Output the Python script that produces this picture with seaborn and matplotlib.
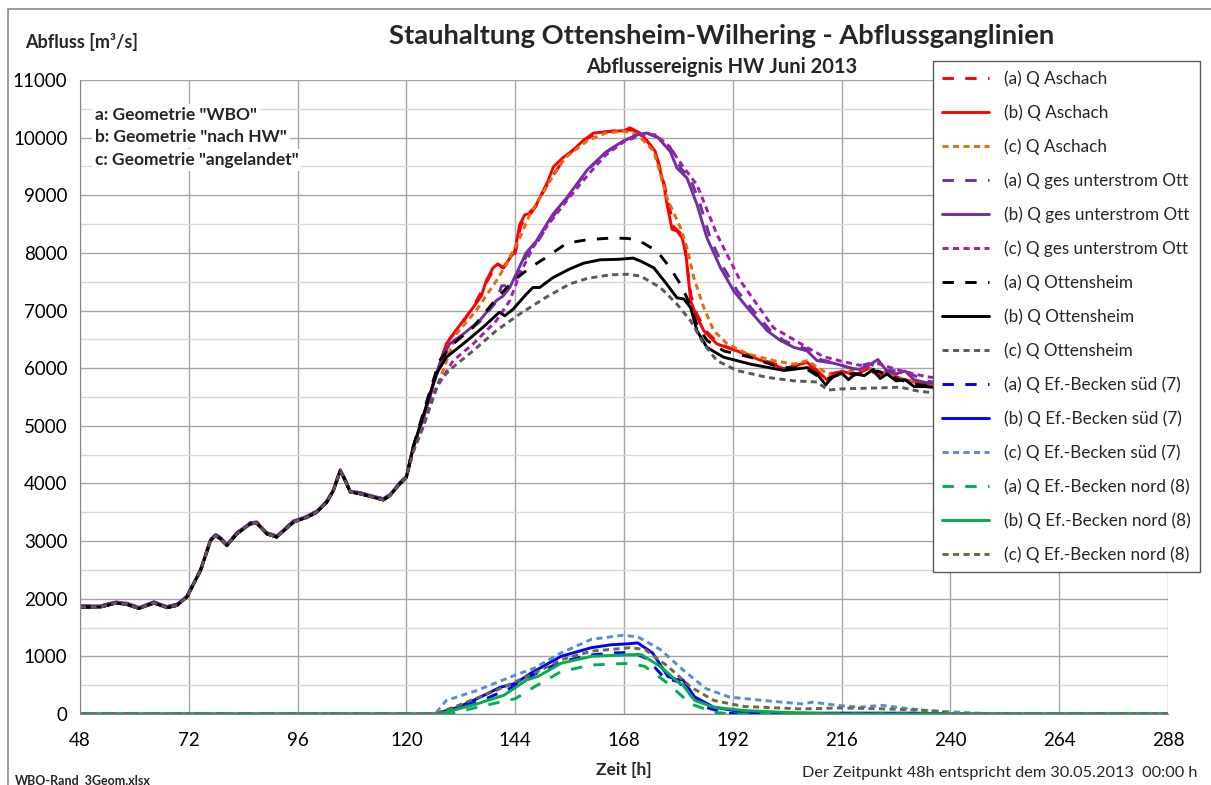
import matplotlib
matplotlib.use("Agg")
import matplotlib.pyplot as plt
from matplotlib.patches import Rectangle
from matplotlib.ticker import MultipleLocator
import numpy as np
import pandas as pd
import seaborn as sns

# ---------------- data ----------------
BASE_T = [48, 52.5, 55.9, 58.4, 61, 64.3, 67.2, 69.4, 71.6, 74.6, 76.8, 77.9, 79, 80.4, 82.6, 85.6, 87,
          89.2, 91.4, 95.1, 98, 100.2, 102.4, 103.9, 105.4, 106.5, 107.6, 109.8, 112.7, 114.9, 116.4, 118.5, 120]
BASE_Q = [1856, 1856, 1925, 1900, 1830, 1925, 1845, 1885, 2030, 2490, 3010, 3095, 3040, 2920, 3125, 3300, 3310,
          3125, 3070, 3330, 3410, 3500, 3670, 3875, 4220, 4050, 3850, 3820, 3760, 3715, 3790, 3990, 4105]

aschach_a_t = [121.5, 124, 126.5, 129, 132.5, 135, 137.6, 139.3, 140.3, 141.4, 142.5, 144, 145.2, 146.5, 148.5, 151.5,
               155, 159, 162, 165, 168, 170, 172, 175, 177, 179, 181, 182.8, 184, 186, 189, 193, 198, 204, 208,
               212, 216, 220, 224, 228, 232, 235, 240, 264, 288]
aschach_a_q = [4620, 5250, 5900, 6450, 6800, 7100, 7480, 7720, 7800, 7740, 7850, 8000, 8460, 8660, 8800, 9250,
               9650, 9950, 10070, 10110, 10130, 10130, 10050, 9750, 9150, 8450, 8300, 7250, 6950, 6650, 6420, 6300,
               6160, 6000, 6090, 5880, 5940, 5890, 5940, 5830, 5750, 5720, 5650, 5450, 5300]

aschach_b_t = [121.5, 123.7, 125.1, 126.9, 128.8, 130.3, 132.5, 134.7, 136.5, 137.6, 139.1, 140.2, 141.3, 142.4,
               143.9, 145, 146.1, 147.5, 148.3, 151.2, 152.4, 154.5, 156.8, 159, 161.3, 165, 168, 169.3, 170.3,
               171.5, 173, 174.9, 176.8, 177.5, 178.6, 179.7, 180.8, 181.6, 182.7, 183.8, 185.6, 188.5, 192.9,
               197.4, 203.3, 207, 208.4, 210.6, 213, 216, 219, 222, 224, 226, 229, 232, 234.5, 240, 252, 264, 276, 288]
aschach_b_q = [4625, 5145, 5500, 5960, 6420, 6590, 6820, 7050, 7250, 7510, 7740, 7810, 7740, 7860,
               8030, 8490, 8660, 8690, 8780, 9240, 9490, 9650, 9785, 9950, 10080, 10110, 10120, 10170, 10130,
               10080, 9950, 9760, 9180, 8840, 8410, 8380, 8260, 8030, 7170, 6940, 6650, 6420, 6300,
               6160, 5990, 6070, 6100, 5960, 5780, 5950, 5880, 6000, 5870, 5930, 5820, 5760, 5720, 5650, 5550,
               5450, 5380, 5300]

aschach_c_t = [121.5, 124, 127.3, 131, 135.4, 139.8, 142, 145, 147.2, 151.6, 155, 160, 164, 168, 171, 174.6,
               177.5, 180.5, 181.9, 183.4, 185.6, 187.8, 190.8, 195.2, 201.1, 205.5, 208.4, 211, 214, 218, 222,
               226, 230, 234.5, 240, 264, 288]
aschach_c_q = [4600, 5150, 5790, 6590, 7000, 7510, 7800, 8260, 8660, 9240, 9650, 9950, 10080, 10110, 10050, 9760,
               8950, 8430, 8090, 7570, 7050, 6650, 6420, 6250, 6130, 6070, 6130, 6000, 5850, 5950, 6000,
               5900, 5800, 5740, 5670, 5480, 5330]

ges_a_t = [121.5, 124, 126, 127.4, 129.5, 132.5, 136.1, 139.8, 141, 143, 144.5, 146.6, 149, 152.5, 155.5, 160,
           164, 168, 171, 173.5, 176, 178.8, 180.5, 182.6, 184.8, 187, 190, 193, 196, 200.3, 203.2, 206.2, 209,
           211.3, 214, 218, 222, 226, 230, 234.5, 240, 264, 288]
ges_a_q = [4620, 5180, 5720, 6060, 6400, 6570, 6800, 7150, 7430, 7430, 7600, 7980, 8200, 8650, 8950, 9440,
           9740, 9950, 10040, 10070, 9990, 9760, 9470, 9300, 8840, 8260, 7740, 7340, 7050, 6650, 6480, 6380, 6320,
           6150, 6100, 6000, 6080, 5960, 5950, 5780, 5720, 5550, 5400]

ges_b_t = [121.5, 124, 126, 127.4, 129.5, 132.5, 136.1, 139.8, 141.3, 142.8, 144.2, 146.4, 148.6, 152.3, 155.3,
           160, 164, 168, 171, 173, 175.5, 178.2, 179.7, 181.9, 184.1, 186.3, 189.3, 192.2, 195.2, 199.6, 202.5,
           205.5, 208.4, 210.6, 214, 216, 218, 220, 222, 224, 226, 228, 230, 232, 234.5, 240, 264, 288]
ges_b_q = [4640, 5200, 5750, 6090, 6420, 6590, 6820, 7170, 7250, 7400, 7630, 8000, 8200, 8670, 8950,
           9450, 9750, 9950, 10050, 10080, 10000, 9760, 9470, 9300, 8840, 8260, 7740, 7340, 7050, 6650, 6480,
           6360, 6300, 6130, 6090, 6050, 6000, 5980, 6050, 6150, 5950, 5900, 5950, 5800, 5750, 5720, 5550, 5400]

ges_c_t = [121.5, 123.8, 125.8, 130.3, 134.7, 139.8, 142.8, 145, 147.9, 150.8, 155.3, 160, 164, 168, 172, 175,
           178, 181, 184.1, 188.5, 193.7, 201, 208.4, 212, 216, 220, 224, 228, 232, 235, 240, 264, 288]
ges_c_q = [4550, 5000, 5550, 6130, 6420, 6820, 7170, 7630, 8090, 8440, 8900, 9350, 9700, 9930, 10050, 10050,
           9850, 9500, 9180, 8320, 7510, 6700, 6360, 6200, 6120, 6050, 6080, 5980, 5900, 5850, 5800, 5600, 5450]

ott_a_t = [121.5, 124, 127.3, 130.3, 134.7, 139.8, 143.5, 147.2, 150.8, 155.4, 160, 165.6, 169, 171.6, 175.3,
           178.2, 180.5, 181.9, 184.1, 186.3, 190, 195.9, 202.5, 208, 212, 216, 220, 224, 228, 232, 235, 240, 264, 288]
ott_a_q = [4640, 5300, 6130, 6420, 6710, 7200, 7510, 7740, 7920, 8170, 8230, 8260, 8250, 8200, 8030,
           7740, 7450, 7220, 6760, 6480, 6300, 6190, 6010, 6000, 5800, 5900, 5900, 5950, 5820, 5720, 5700, 5650,
           5450, 5300]

ott_b_t = [121.5, 124, 126.6, 128.8, 132.5, 136.9, 140.5, 141.7, 143.5, 146.4, 147.9, 149.4, 152.3, 156, 159,
           162.7, 167, 170, 171.6, 174.6, 177.5, 179.7, 181.2, 182.7, 184.1, 186.3, 190, 195.9, 203.3, 208.4,
           210.6, 212.5, 214, 216, 217.5, 219, 221, 223, 224.5, 226, 228, 230, 232, 234.5, 240, 264, 288]
ott_b_q = [4620, 5250, 5900, 6190, 6420, 6710, 6970, 6910, 7020, 7280, 7400, 7400, 7570, 7720, 7820,
           7880, 7890, 7910, 7860, 7740, 7450, 7220, 7200, 7050, 6650, 6360, 6190, 6070, 5960, 6010,
           5900, 5710, 5850, 5920, 5800, 5900, 5870, 5980, 5820, 5900, 5780, 5800, 5680, 5680, 5640, 5450, 5300]

ott_c_t = [121.5, 124, 127.3, 130.3, 134.7, 139.8, 145, 150.8, 156, 160, 165, 168.7, 171.6, 176, 179.7, 182.7,
           185.6, 188.5, 192.9, 199.6, 205.5, 210.6, 213, 216, 220, 225, 229, 233, 235.5, 240, 264, 288]
ott_c_q = [4550, 5050, 5790, 6020, 6300, 6650, 6940, 7230, 7460, 7560, 7620, 7630, 7600, 7400, 7110, 6820,
           6420, 6130, 5960, 5840, 5780, 5760, 5620, 5640, 5650, 5660, 5670, 5600, 5580, 5560, 5400, 5250]

sued_a_t = [48, 127, 132, 138, 143, 148, 154, 160, 166, 170, 173, 177, 180, 183, 186, 190, 193, 288]
sued_a_q = [0, 0, 100, 280, 450, 680, 900, 1020, 1060, 1070, 960, 620, 560, 300, 120, 20, 0, 0]

sued_b_t = [48, 126.3, 131.4, 135.6, 140.6, 144, 147.4, 154.1, 160.8, 165, 169.3, 171, 174.3, 177.7, 179.5,
            181, 183.6, 187.8, 194.5, 202, 232, 240, 288]
sued_b_q = [0, 0, 118, 265, 460, 530, 705, 1000, 1150, 1200, 1220, 1235, 1060, 650, 600,
            590, 295, 118, 30, 15, 15, 0, 0]

sued_c_t = [48, 126.3, 128.8, 135.6, 144, 148.2, 154.1, 160.8, 167.6, 171, 176, 181, 186.1, 191.2, 198.7,
            207.2, 209.7, 215, 219.8, 225, 230, 235, 242, 250, 288]
sued_c_q = [0, 0, 235, 410, 675, 795, 1060, 1295, 1365, 1340, 1120, 765, 440, 295, 235,
            175, 205, 150, 118, 150, 100, 60, 30, 0, 0]

nord_a_t = [48, 129.7, 135.6, 144, 148.2, 154.1, 160.8, 169.3, 172.6, 177.7, 182.7, 187.8, 192, 288]
nord_a_q = [0, 0, 118, 265, 470, 735, 850, 880, 825, 530, 176, 30, 0, 0]

nord_b_t = [48, 127.2, 135.6, 141.5, 146.5, 149, 154.1, 160.8, 169.3, 171.8, 176, 179.4, 181, 183.6, 187.8,
            194.5, 202.9, 210, 215, 288]
nord_b_q = [0, 0, 176, 325, 590, 650, 880, 1000, 1030, 1030, 825, 590, 500, 235, 118,
            60, 30, 10, 0, 0]

nord_c_t = [48, 126.3, 131.4, 139.8, 148.2, 154.1, 160.8, 169.3, 172.6, 177.7, 182.7, 187.8, 194.5, 207.2,
            215.6, 225, 235, 238, 241, 288]
nord_c_q = [0, 0, 147, 410, 705, 940, 1090, 1150, 1120, 825, 470, 235, 130, 88,
            105, 90, 60, 40, 0, 0]

LABELS = ["(a) Q Aschach", "(b) Q Aschach", "(c) Q Aschach",
          "(a) Q ges unterstrom Ott", "(b) Q ges unterstrom Ott", "(c) Q ges unterstrom Ott",
          "(a) Q Ottensheim", "(b) Q Ottensheim", "(c) Q Ottensheim",
          "(a) Q Ef.-Becken süd (7)", "(b) Q Ef.-Becken süd (7)", "(c) Q Ef.-Becken süd (7)",
          "(a) Q Ef.-Becken nord (8)", "(b) Q Ef.-Becken nord (8)", "(c) Q Ef.-Becken nord (8)"]

X_TICKS = list(range(48, 289, 24))
Y_TICKS = list(range(0, 11001, 1000))

# ---------------- style ----------------
sns.set_style("white")
FONT = ["Lato", "DejaVu Sans"]
plt.rcParams["font.family"] = FONT

COLORS = ["#FF0000", "#FF0000", "#E46C0A",
          "#7030A0", "#7030A0", "#A41CB4",
          "#000000", "#000000", "#595959",
          "#0000FF", "#0000FF", "#558ED5",
          "#00B050", "#00B050", "#6E6A3A"]
LONG = (0, (3.9, 3.9))
SHORT = (0, (2.1, 1.5))
STYLES = [LONG, "-", SHORT] * 5

upper = [(aschach_a_t, aschach_a_q, 0), (aschach_b_t, aschach_b_q, 0), (aschach_c_t, aschach_c_q, 0),
         (ges_a_t, ges_a_q, 20), (ges_b_t, ges_b_q, 20), (ges_c_t, ges_c_q, 10),
         (ott_a_t, ott_a_q, 0), (ott_b_t, ott_b_q, 0), (ott_c_t, ott_c_q, 0)]
series = []
for t, q, off in upper:
    series.append((BASE_T + t, [v + off for v in BASE_Q] + q))
series += [(sued_a_t, sued_a_q), (sued_b_t, sued_b_q), (sued_c_t, sued_c_q),
           (nord_a_t, nord_a_q), (nord_b_t, nord_b_q), (nord_c_t, nord_c_q)]

fig = plt.figure(figsize=(12.11, 7.85), dpi=100)
ax = fig.add_axes([80 / 1211, 1 - 714 / 785, (1168 - 80) / 1211, (714 - 80) / 785])

handles = []
for (t, q), lab, col, ls in zip(series, LABELS, COLORS, STYLES):
    df = pd.DataFrame({"t": t, "q": q})
    sns.lineplot(data=df, x="t", y="q", ax=ax, color=col, linewidth=2.1, linestyle=ls,
                 estimator=None, sort=False, legend=False)
    handles.append(ax.lines[-1])

ax.set_xlim(48, 288)
ax.set_ylim(0, 11000)
ax.set_xticks(X_TICKS)
ax.set_yticks(Y_TICKS)
ax.yaxis.set_minor_locator(MultipleLocator(500))
ax.grid(True, which="major", color="#A6A6A6", lw=1.0)
ax.grid(True, which="minor", axis="y", color="#D9D9D9", lw=1.0)
ax.set_axisbelow(True)
ax.tick_params(axis="both", which="both", direction="out", length=5, color="#868686",
               labelsize=13.5, pad=4, labelcolor="#000000")
ax.tick_params(axis="x", pad=8)
for s in ["top", "right"]:
    ax.spines[s].set_visible(False)
for s in ["left", "bottom"]:
    ax.spines[s].set_color("#868686")
ax.set_xlabel("")
ax.set_ylabel("")

leg = ax.legend(handles, LABELS, loc="upper left", bbox_to_anchor=(933 / 1211, 1 - 61 / 785),
                bbox_transform=fig.transFigure, borderaxespad=0, fontsize=12.3, frameon=True,
                fancybox=False, edgecolor="#5a5a5a", framealpha=1, handlelength=2.7,
                handletextpad=0.9, labelspacing=1.02, borderpad=0.55)
leg.get_frame().set_linewidth(1.0)
leg.set_zorder(10)

# texts
fig.text(722 / 1211, 1 - 36 / 785, "Stauhaltung Ottensheim-Wilhering - Abflussganglinien",
         ha="center", va="center", fontsize=19.7, fontweight="bold")
fig.text(722 / 1211, 1 - 67 / 785, "Abflussereignis HW Juni 2013",
         ha="center", va="center", fontsize=14.5, fontweight="bold")
fig.text(25 / 1211, 1 - 42 / 785, "Abfluss [m³/s]", ha="left", va="center", fontsize=13,
         fontweight="bold")
for yy, txt in [(115, 'a: Geometrie "WBO"'), (137, 'b: Geometrie "nach HW"'), (160, 'c: Geometrie "angelandet"')]:
    fig.text(95 / 1211, 1 - yy / 785, txt, ha="left", va="center", fontsize=12.5, fontweight="bold",
             bbox=dict(facecolor="white", edgecolor="none", pad=2), zorder=5)
fig.text(624 / 1211, 1 - 770 / 785, "Zeit [h]", ha="center", va="center", fontsize=12.5,
         fontweight="bold")
fig.text(1197 / 1211, 1 - 773 / 785, "Der Zeitpunkt 48h entspricht dem 30.05.2013  00:00 h",
         ha="right", va="center", fontsize=11.7)
fig.text(15 / 1211, 1 - 781 / 785, "WBO-Rand_3Geom.xlsx", ha="left", va="center", fontsize=9,
         fontweight="bold")

fig.add_artist(Rectangle((8 / 1211, -0.2), 2.0, 1.2 - 9 / 785, transform=fig.transFigure,
                         fill=False, edgecolor="#8c8c8c", lw=1.2))

fig.savefig("out.png", dpi=100)
